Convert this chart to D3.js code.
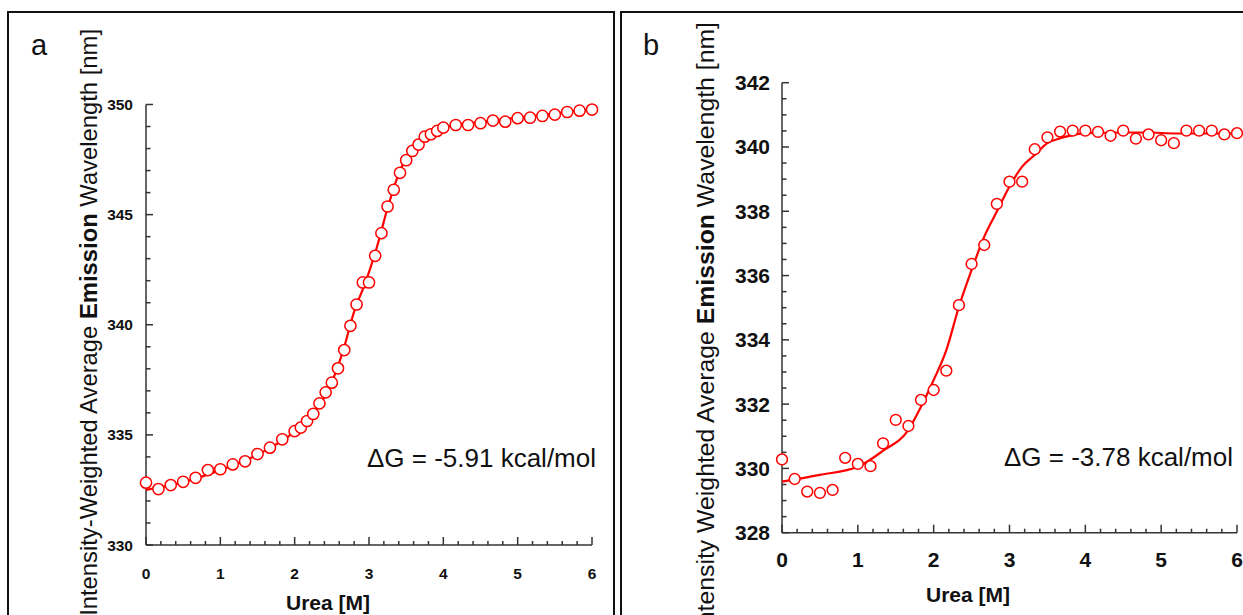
<!DOCTYPE html>
<html><head><meta charset="utf-8">
<script src="https://cdn.jsdelivr.net/npm/d3@7/dist/d3.min.js"></script>
<style>
body{margin:0;background:#fff;}
svg{display:block;font-family:Arial,"Liberation Sans",sans-serif;}
</style></head>
<body>
<svg id="chart" width="1243" height="615"></svg>
<script>
// ---------- Panel a data ----------
const ureaA = [0,0.167,0.333,0.5,0.667,0.833,1.0,1.167,1.333,1.5,1.667,1.833,
  2.0,2.083,2.167,2.25,2.333,2.417,2.5,2.583,2.667,
  2.75,2.833,2.917,3.0,3.083,3.167,3.25,3.333,3.417,3.5,3.583,3.667,3.75,3.833,3.917,4.0,
  4.167,4.333,4.5,4.667,4.833,5.0,5.167,5.333,5.5,5.667,5.833,6.0];
const wavelengthA = [332.83,332.54,332.72,332.87,333.05,333.40,333.44,333.66,333.80,334.13,334.42,334.80,
  335.17,335.33,335.63,335.95,336.43,336.93,337.37,338.02,338.85,
  339.95,340.92,341.92,341.92,343.13,344.16,345.37,346.13,346.90,347.47,347.89,348.18,348.54,348.65,348.80,348.95,
  349.07,349.07,349.15,349.27,349.22,349.38,349.40,349.48,349.54,349.66,349.72,349.77];
const fitUreaA = [0,0.5,1,1.5,2,2.25,2.5,2.65,2.8,2.95,3.1,3.25,3.4,3.55,3.7,3.85,4,4.5,5,5.5,6];
const fitA = [332.5,332.85,333.4,334.1,335.15,335.95,337.4,338.8,340.6,341.9,343.45,345.3,346.85,347.85,348.4,348.75,348.95,349.2,349.4,349.6,349.8];
const yTicksA = [330,335,340,345,350];
const xTicks = [0,1,2,3,4,5,6];

// ---------- Panel b data ----------
const ureaB = [0,0.167,0.333,0.5,0.667,0.833,1,1.167,1.333,1.5,1.667,1.833,2,2.167,2.333,
  2.5,2.667,2.833,3,3.167,3.333,3.5,3.667,3.833,
  4,4.167,4.333,4.5,4.667,4.833,5,5.167,5.333,5.5,5.667,5.833,6];
const wavelengthB = [330.28,329.67,329.28,329.24,329.33,330.33,330.14,330.07,330.78,331.51,331.32,332.13,332.44,333.04,335.08,
  336.36,336.95,338.23,338.92,338.92,339.93,340.30,340.48,340.51,
  340.51,340.47,340.35,340.51,340.26,340.39,340.21,340.12,340.51,340.51,340.51,340.39,340.43];
const fitUreaB = [0,0.5,1,1.333,1.667,1.833,2,2.167,2.333,2.5,2.667,2.833,3,3.167,3.333,3.5,3.667,3.833,4,4.5,4.8,5.2,5.5,6];
const fitB = [329.59,329.80,330.05,330.55,331.2,331.92,332.75,333.68,335.03,336.17,337.21,337.99,338.77,339.39,339.75,340.12,340.27,340.37,340.43,340.45,340.45,340.42,340.42,340.42];
const yTicksB = [328,330,332,334,336,338,340,342];

const yTitle = ["Intensity-Weighted Average ", "Emission", " Wavelength [nm]"];
const yTitleB = ["Intensity Weighted Average ", "Emission", " Wavelength [nm]"];
const xTitle = "Urea [M]";
const dGA = "ΔG = -5.91 kcal/mol";
const dGB = "ΔG = -3.78 kcal/mol";

const svg = d3.select("#chart");
const RED = "#ff0000";

// frames
svg.append("rect").attr("x",8).attr("y",12).attr("width",606).attr("height",640)
  .attr("fill","none").attr("stroke","#111").attr("stroke-width",2);
svg.append("rect").attr("x",621).attr("y",12).attr("width",660).attr("height",640)
  .attr("fill","none").attr("stroke","#111").attr("stroke-width",2);

function panel(o){
  const x = d3.scaleLinear().domain([0,6]).range([o.x0,o.x1]);
  const y = d3.scaleLinear().domain(o.ydom).range([o.y0,o.y1]);
  const g = svg.append("g");
  const xMinor = d3.range(0,6.0001,0.2).filter(v=>Math.abs(v-Math.round(v))>1e-6);
  const yMinor = d3.range(o.ydom[0],o.ydom[1]+1e-6,o.yMinorStep).filter(v=>!o.yTicks.some(t=>Math.abs(t-v)<1e-6));
  const ax = g.append("g").attr("stroke","#333").attr("stroke-width",1.5);
  ax.append("line").attr("x1",x(0)).attr("x2",x(6)).attr("y1",y(o.ydom[0])).attr("y2",y(o.ydom[0]));
  ax.append("line").attr("x1",x(0)).attr("x2",x(0)).attr("y1",y(o.ydom[0])).attr("y2",y(o.ydom[1]));
  xMinor.forEach(v=>ax.append("line").attr("x1",x(v)).attr("x2",x(v)).attr("y1",y(o.ydom[0])).attr("y2",y(o.ydom[0])-4));
  xTicks.forEach(v=>ax.append("line").attr("x1",x(v)).attr("x2",x(v)).attr("y1",y(o.ydom[0])).attr("y2",y(o.ydom[0])-8));
  yMinor.forEach(v=>ax.append("line").attr("x1",x(0)).attr("x2",x(0)+4.5).attr("y1",y(v)).attr("y2",y(v)));
  o.yTicks.forEach(v=>ax.append("line").attr("x1",x(0)).attr("x2",x(0)+7).attr("y1",y(v)).attr("y2",y(v)));
  g.selectAll(".xl").data(xTicks).enter().append("text")
    .attr("x",d=>x(d)).attr("y",o.xLabY).attr("text-anchor","middle").attr("dominant-baseline","central")
    .attr("font-weight","bold").attr("font-size",o.tickFs).attr("fill","#111").text(d=>d);
  g.selectAll(".yl").data(o.yTicks).enter().append("text")
    .attr("x",x(0)-o.yLabGap).attr("y",d=>y(d)).attr("text-anchor","end").attr("dominant-baseline","central")
    .attr("font-weight","bold").attr("font-size",o.tickFs).attr("fill","#111").text(d=>d);
  g.append("text").attr("x",o.xtX).attr("y",o.xtY).attr("text-anchor","middle").attr("dominant-baseline","central")
    .attr("font-weight","bold").attr("font-size",21).attr("fill","#111").text(xTitle);
  const yt = g.append("text").attr("transform",`translate(${o.ytX},${o.ytY}) rotate(-90)`)
    .attr("text-anchor","end").attr("dominant-baseline","central").attr("font-size",o.ytFs).attr("fill","#111");
  o.yTitle.forEach((s,i)=>yt.append("tspan").attr("font-weight",i===1?"bold":"normal").text(s));
  g.append("text").attr("x",o.dgX).attr("y",o.dgY).attr("text-anchor","end").attr("dominant-baseline","central")
    .attr("font-size",26).attr("fill","#111").text(o.dg);
  g.append("text").attr("x",o.lx).attr("y",o.ly).attr("dominant-baseline","central")
    .attr("font-size",29).attr("fill","#111").text(o.letter);
  const line = d3.line().x(d=>x(d[0])).y(d=>y(d[1])).curve(d3.curveMonotoneX);
  g.append("path").datum(o.fitX.map((v,i)=>[v,o.fitY[i]])).attr("d",line)
    .attr("fill","none").attr("stroke",RED).attr("stroke-width",2.2);
  g.selectAll(".pt").data(o.px.map((v,i)=>[v,o.py[i]])).enter().append("circle")
    .attr("cx",d=>x(d[0])).attr("cy",d=>y(d[1])).attr("r",o.r)
    .attr("fill","#fff").attr("stroke",RED).attr("stroke-width",1.5);
}

panel({x0:146,x1:592,ydom:[330,350],y0:545,y1:104.5,yTicks:yTicksA,yMinorStep:1,
  tickFs:15.5,xLabY:573,yLabGap:13,xtX:328,xtY:602,ytX:88,ytY:29,ytFs:23.8,yTitle:yTitle,
  dg:dGA,dgX:596,dgY:458,letter:"a",lx:31,ly:45,px:ureaA,py:wavelengthA,fitX:fitUreaA,fitY:fitA,r:5.6});
panel({x0:782,x1:1237,ydom:[328,342],y0:532.7,y1:82.7,yTicks:yTicksB,yMinorStep:0.5,
  tickFs:21,xLabY:559,yLabGap:12,xtX:968,xtY:594,ytX:705,ytY:22,ytFs:24.8,yTitle:yTitleB,
  dg:dGB,dgX:1233,dgY:457,letter:"b",lx:643,ly:45,px:ureaB,py:wavelengthB,fitX:fitUreaB,fitY:fitB,r:5.4});
</script>
</body></html>
